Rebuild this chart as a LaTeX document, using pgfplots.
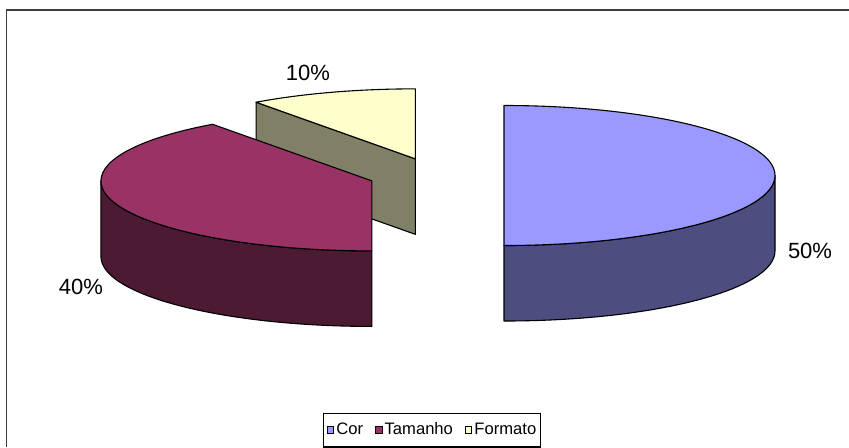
\documentclass[border=0pt]{standalone}
\usepackage{pgfplots}
\pgfplotsset{compat=1.18}
\usepackage{pgfplotstable}
\usepackage{fontspec}
\setmainfont{Liberation Sans}

\definecolor{corTop}{RGB}{153,153,255}
\definecolor{corSide}{RGB}{77,77,128}
\definecolor{tamTop}{RGB}{153,51,102}
\definecolor{tamSide}{RGB}{77,26,51}
\definecolor{forTop}{RGB}{255,255,204}
\definecolor{forSide}{RGB}{128,128,102}
\definecolor{frameCol}{RGB}{60,60,60}

\pgfplotstableread{
label value
Cor 50
Tamanho 40
Formato 10
}\piedata

\begin{document}
\begin{tikzpicture}
% ---- slice angles from the data (start at 12 o'clock, clockwise) ----
\pgfplotstablegetelem{0}{value}\of\piedata \let\vCor\pgfplotsretval
\pgfplotstablegetelem{1}{value}\of\piedata \let\vTam\pgfplotsretval
\pgfplotstablegetelem{2}{value}\of\piedata \let\vFor\pgfplotsretval
\pgfmathsetmacro{\tot}{\vCor+\vTam+\vFor}
\pgfmathsetmacro{\aCorS}{90}
\pgfmathsetmacro{\aCorE}{\aCorS-360*(\vCor/\tot)}
\pgfmathsetmacro{\aTamS}{\aCorE}
\pgfmathsetmacro{\aTamE}{\aTamS-360*(\vTam/\tot)}
\pgfmathsetmacro{\aForS}{\aTamE}
\pgfmathsetmacro{\aForE}{\aForS-360*(\vFor/\tot)}
% explosion of each slice along its middle angle
\pgfmathsetmacro{\mCor}{(\aCorS+\aCorE)/2}
\pgfmathsetmacro{\mTam}{(\aTamS+\aTamE)/2}
\pgfmathsetmacro{\mFor}{(\aForS+\aForE)/2}
\pgfmathsetmacro{\cxCor}{436.3+67.7*cos(\mCor)}
\pgfmathsetmacro{\cyCor}{271.5+17.5*sin(\mCor)}
\pgfmathsetmacro{\cxTam}{436.3+67.7*cos(\mTam)}
\pgfmathsetmacro{\cyTam}{271.5+17.5*sin(\mTam)}
\pgfmathsetmacro{\cxFor}{436.3+67.7*cos(\mFor)}
\pgfmathsetmacro{\cyFor}{271.5+17.5*sin(\mFor)}
\pgfmathsetmacro{\aForOpp}{\aForS+180}
% visible front part of the outer walls
\pgfmathsetmacro{\wCorA}{max(\aCorE,-180)}
\pgfmathsetmacro{\wCorB}{min(\aCorS,0)}
\pgfmathsetmacro{\wTamA}{max(\aTamE,-180)}
\pgfmathsetmacro{\wTamB}{min(\aTamS,0)}
\def\elr{135.5pt and 35pt}
\def\rx{135.5pt}
\def\ry{35pt}
\def\dep{37.75pt}
\begin{axis}[
  at={(0,0)}, anchor=south west,
  scale only axis, width=424.5pt, height=223.5pt,
  xmin=0, xmax=849, ymin=0, ymax=447,
  hide axis, clip=false, disabledatascaling,
  legend columns=3,
  legend image code/.code={\draw[#1, line width=0.45pt] (0pt,-1.7pt) rectangle (3.4pt,1.7pt);},
  legend style={at={(0.5088,0.0375)}, anchor=center, draw=black, line width=0.6pt,
    font=\fontsize{8.3}{10}\selectfont, inner xsep=1.6pt, inner ysep=3.6pt,
    nodes={inner xsep=0.6pt, inner ysep=1pt},
    /tikz/every odd column/.append style={column sep=0.5pt},
    /tikz/every even column/.append style={column sep=5.2pt}},
]
\addlegendimage{fill=corTop, draw=black}
\addlegendentry{Cor}
\addlegendimage{fill=tamTop, draw=black}
\addlegendentry{Tamanho}
\addlegendimage{fill=forTop, draw=black}
\addlegendentry{Formato}

% chart frame
\draw[frameCol, line width=0.7pt] (axis cs:6.7,0) -- (axis cs:6.7,437) -- (axis cs:860,437);

\begin{scope}[line width=0.55pt, draw=black, line join=round]
% ---- Formato (back) ----
\filldraw[fill=forSide] (axis cs:\cxFor,\cyFor) -- ++(\aForS:\elr) -- ++(0,-\dep)
   -- ++(\aForOpp:\elr) -- cycle;
\filldraw[fill=forTop] (axis cs:\cxFor,\cyFor) -- ++(\aForS:\elr)
   arc[start angle=\aForS, end angle=\aForE, x radius=\rx, y radius=\ry] -- cycle;
% ---- Tamanho ----
\filldraw[fill=tamSide] (axis cs:\cxTam,\cyTam) ++(\wTamA:\elr)
   arc[start angle=\wTamA, end angle=\wTamB, x radius=\rx, y radius=\ry] -- ++(0,-\dep)
   arc[start angle=\wTamB, end angle=\wTamA, x radius=\rx, y radius=\ry] -- cycle;
\filldraw[fill=tamTop] (axis cs:\cxTam,\cyTam) -- ++(\aTamS:\elr)
   arc[start angle=\aTamS, end angle=\aTamE, x radius=\rx, y radius=\ry] -- cycle;
% ---- Cor ----
\filldraw[fill=corSide] (axis cs:\cxCor,\cyCor) ++(\wCorA:\elr)
   arc[start angle=\wCorA, end angle=\wCorB, x radius=\rx, y radius=\ry] -- ++(0,-\dep)
   arc[start angle=\wCorB, end angle=\wCorA, x radius=\rx, y radius=\ry] -- cycle;
\filldraw[fill=corTop] (axis cs:\cxCor,\cyCor) -- ++(\aCorS:\elr)
   arc[start angle=\aCorS, end angle=\aCorE, x radius=\rx, y radius=\ry] -- cycle;
\end{scope}

% data labels
\node[font=\fontsize{11}{13}\selectfont] at (axis cs:308,374) {10\%};
\node[font=\fontsize{11}{13}\selectfont] at (axis cs:81,160) {40\%};
\node[font=\fontsize{11}{13}\selectfont] at (axis cs:810,196) {50\%};
\end{axis}
\pgfresetboundingbox
\path (0,0) rectangle (424.5pt,223.5pt);
\end{tikzpicture}
\end{document}
